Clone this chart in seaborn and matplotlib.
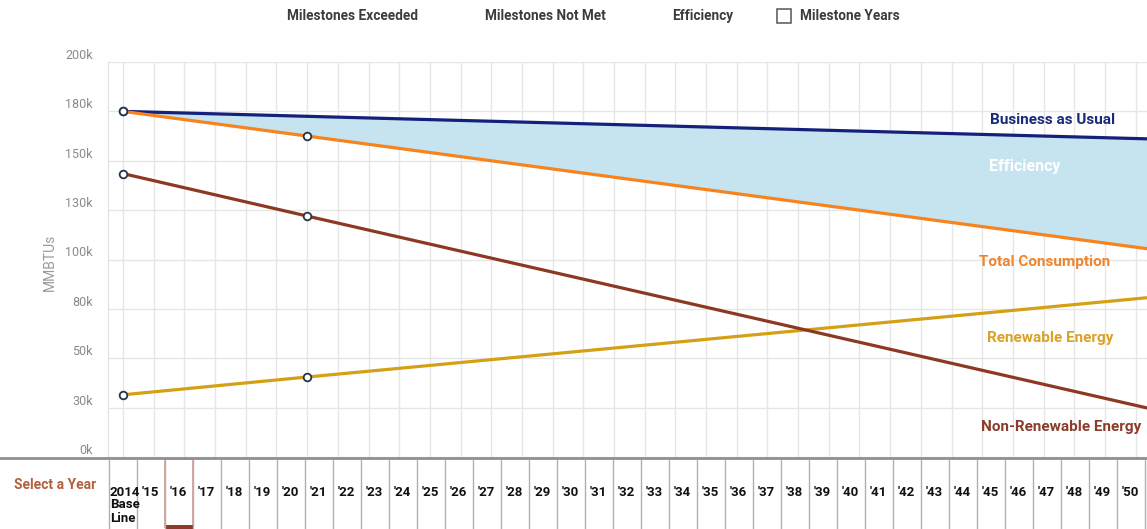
import numpy as np
import pandas as pd
import matplotlib.pyplot as plt
import matplotlib.transforms as mtransforms
from matplotlib.patches import Rectangle
import seaborn as sns

sns.set_style("white")
plt.rcParams['font.family'] = ['Roboto', 'DejaVu Sans']

# --- data ---
years = [2014, 2020, 2050]
business_as_usual = [175000, 172500, 160000]
total_consumption = [175000, 162500, 100000]
renewable = [31500, 40500, 84500]
non_renewable = [143500, 122000, 15500]
milestone_years = [2014, 2020]

ytick_values = [0, 25000, 50000, 75000, 100000, 125000, 150000, 175000, 200000]
ytick_labels = ["0k", "30k", "50k", "80k", "100k", "130k", "150k", "180k", "200k"]

select_years = list(range(2014, 2051))
select_labels = ["2014"] + ["'%02d" % (y % 100) for y in select_years[1:]]
selected_year = 2016

df = pd.DataFrame({"Year": years, "Business as Usual": business_as_usual,
                   "Total Consumption": total_consumption,
                   "Renewable Energy": renewable,
                   "Non-Renewable Energy": non_renewable})
long = df.melt(id_vars="Year", var_name="Series", value_name="MMBTU")

colors = {"Business as Usual": "#14207a", "Total Consumption": "#f7831e",
          "Renewable Energy": "#d4a015", "Non-Renewable Energy": "#8c3823"}
label_colors = {"Business as Usual": "#1b2a78", "Total Consumption": "#f0842c",
                "Renewable Energy": "#d9a226", "Non-Renewable Energy": "#8b3d2b"}

W, H = 1147, 529
fig = plt.figure(figsize=(W / 100, H / 100), dpi=100)
ax = fig.add_axes([108 / W, 1 - 457 / H, (W - 108) / W, (457 - 62) / H])

# efficiency band
ax.fill_between(df["Year"], df["Business as Usual"], df["Total Consumption"],
                color="#c5e4ef", lw=0, zorder=1)

sns.lineplot(data=long, x="Year", y="MMBTU", hue="Series", palette=colors,
             linewidth=2.3, legend=False, ax=ax, zorder=3)

# milestone markers
for s in ["Business as Usual", "Total Consumption", "Renewable Energy", "Non-Renewable Energy"]:
    m = df[df["Year"].isin(milestone_years)]
    if s == "Business as Usual":
        m = m[m["Year"] == 2014]
    ax.plot(m["Year"], m[s], ls="none", marker="o", ms=5.5, mfc="white",
            mec="#263445", mew=1.3, zorder=5)

ax.set_xlim(2013.51, 2047.37)
ax.set_ylim(0, 200000)
ax.set_xticks(range(2014, 2048))
ax.set_xticklabels([])
ax.tick_params(axis="x", length=0)
ax.set_yticks(ytick_values)
ax.set_yticklabels(ytick_labels, color="#8a8a8a", fontsize=9)
ax.tick_params(axis="y", length=0, pad=11)
offset = mtransforms.ScaledTranslation(0, 0.08, fig.dpi_scale_trans)
for lab in ax.get_yticklabels():
    lab.set_transform(lab.get_transform() + offset)
ax.grid(True, color="#e6e6e6", lw=1)
ax.set_axisbelow(True)
for sp in ["top", "right", "bottom"]:
    ax.spines[sp].set_visible(False)
ax.spines["left"].set_color("#e0e0e0")
ax.set_xlabel("")
ax.set_ylabel("")
fig.text(50 / W, 1 - 262 / H, "MMBTUs", rotation=90, color="#9a9a9a",
         fontsize=10, ha="center", va="center")

# series labels
def px_to_data(px, py):
    return 2014 + (px - 123) / 30.7, (457 - py) / 395 * 200000

for name, (px, py) in {"Business as Usual": (1053, 120),
                       "Total Consumption": (1045, 262),
                       "Renewable Energy": (1051, 338),
                       "Non-Renewable Energy": (1062, 427)}.items():
    x, y = px_to_data(px, py)
    ax.text(x, y, name, color=label_colors[name], fontsize=11, fontweight="bold",
            ha="center", va="center", zorder=6)
x, y = px_to_data(1025, 167)
ax.text(x, y, "Efficiency", color="white", fontsize=11.5, fontweight="bold",
        ha="center", va="center", zorder=6)

# top legend
leg_color = "#3c3c3c"
fig.text(352 / W, 1 - 16 / H, "Milestones Exceeded", color=leg_color, fontsize=9.8,
         fontweight="bold", ha="center", va="center")
fig.text(545 / W, 1 - 16 / H, "Milestones Not Met", color=leg_color, fontsize=9.8,
         fontweight="bold", ha="center", va="center")
fig.text(703 / W, 1 - 16 / H, "Efficiency", color=leg_color, fontsize=9.8,
         fontweight="bold", ha="center", va="center")
fig.patches.append(Rectangle((777 / W, 1 - 23 / H), 14 / W, 14 / H, transform=fig.transFigure,
                             fill=False, ec="#555555", lw=1.1))
fig.text(850 / W, 1 - 16 / H, "Milestone Years", color=leg_color, fontsize=9.8,
         fontweight="bold", ha="center", va="center")

# year selector strip
sel = fig.add_axes([0, 0, 1, 1 - 457 / H])
sel.set_xlim(0, W)
sel.set_ylim(H, 457)
sel.axis("off")
sel.axhline(458, color="#8f8f8f", lw=2)
sel.text(55, 485, "Select a Year", color="#b4603f", fontsize=10, fontweight="bold",
         ha="center", va="center")
cell = 28
x0 = 108.5
for i, (yr, lab) in enumerate(zip(select_years, select_labels)):
    left = x0 + i * cell
    sel.plot([left, left], [460, 529], color="#b0b0b0", lw=1)
    if i == 0:
        for k, word in enumerate(["2014", "Base", "Line"]):
            sel.text(left + 1.5, 492 + 13 * k, word, fontsize=9.5, fontweight="bold",
                     color="#111111", ha="left", va="center")
    else:
        sel.text(left + cell / 2, 492, lab, fontsize=9.5, fontweight="bold", color="#111111",
                 ha="center", va="center")
    if yr == selected_year:
        sel.add_patch(Rectangle((left, 459), cell, 68, fill=False, ec="#d29a88", lw=1.2))
        sel.add_patch(Rectangle((left, 525), cell, 4, color="#8b3a2a", lw=0))
sel.plot([x0 + len(select_years) * cell] * 2, [460, 529], color="#b0b0b0", lw=1)

fig.savefig("out.png", dpi=100)
